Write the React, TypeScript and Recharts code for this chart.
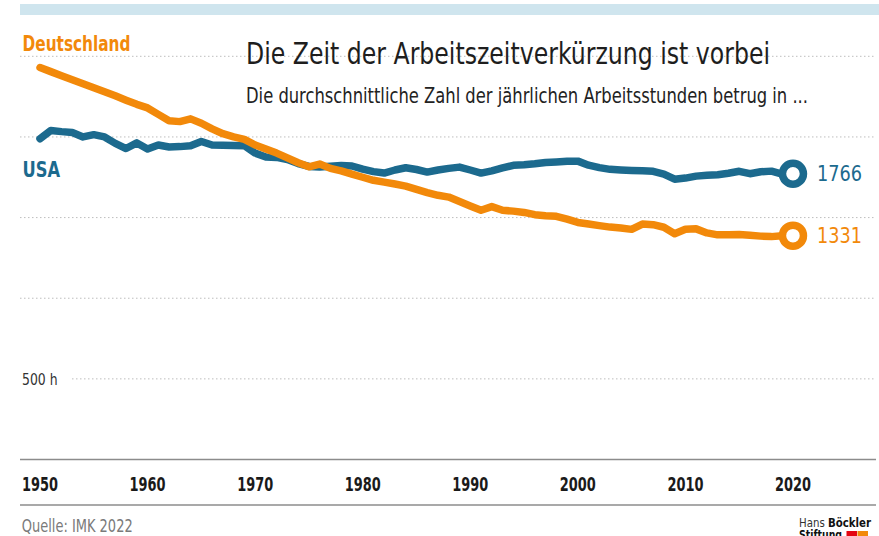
import { CartesianGrid, LabelList, Line, LineChart, XAxis, YAxis } from "recharts";

const YEARS = [
  1950, 1951, 1952, 1953, 1954, 1955, 1956, 1957, 1958, 1959,
  1960, 1961, 1962, 1963, 1964, 1965, 1966, 1967, 1968, 1969,
  1970, 1971, 1972, 1973, 1974, 1975, 1976, 1977, 1978, 1979,
  1980, 1981, 1982, 1983, 1984, 1985, 1986, 1987, 1988, 1989,
  1990, 1991, 1992, 1993, 1994, 1995, 1996, 1997, 1998, 1999,
  2000, 2001, 2002, 2003, 2004, 2005, 2006, 2007, 2008, 2009,
  2010, 2011, 2012, 2013, 2014, 2015, 2016, 2017, 2018, 2019,
  2020,
];

// Jährliche Arbeitsstunden
const GERMANY = [
  2430, 2405, 2380, 2355, 2330, 2305, 2280, 2255, 2228, 2202,
  2180, 2140, 2100, 2095, 2112, 2085, 2050, 2020, 2000, 1985,
  1950, 1925, 1900, 1870, 1840, 1815, 1832, 1805, 1790, 1770,
  1750, 1731, 1720, 1708, 1695, 1675, 1655, 1638, 1627, 1600,
  1572, 1545, 1568, 1545, 1540, 1532, 1518, 1512, 1508, 1490,
  1470, 1460, 1450, 1441, 1435, 1427, 1460, 1456, 1440, 1400,
  1428, 1430, 1405, 1393, 1394, 1395, 1390, 1385, 1382, 1388,
  1388,
];

const USA = [
  1989, 2040, 2033, 2028, 2000, 2014, 2000, 1960, 1928, 1963,
  1925, 1950, 1938, 1940, 1945, 1972, 1950, 1948, 1947, 1946,
  1900, 1876, 1873, 1860, 1835, 1817, 1814, 1818, 1823, 1820,
  1800, 1785, 1776, 1795, 1809, 1798, 1782, 1795, 1805, 1813,
  1795, 1776, 1790, 1808, 1824, 1828, 1834, 1842, 1845, 1849,
  1850, 1825, 1810, 1799, 1795, 1792, 1790, 1787, 1770, 1738,
  1745, 1757, 1762, 1766, 1775, 1787, 1772, 1784, 1788, 1770,
  1772,
];

const X_TICKS = [1950, 1960, 1970, 1980, 1990, 2000, 2010, 2020];
const Y_TICKS = [0, 500, 1000, 1500, 2000];
const Y_LABELS: Record<number, string> = { 500: "500 h" };
const END_LABEL_DE = "1331";
const END_LABEL_US = "1766";

const ORANGE = "#f2890a";
const BLUE = "#1c6a8e";
const FONT = "'Liberation Sans Narrow', 'DejaVu Sans Condensed', Roboto, sans-serif";
const PLOT_LEFT = 20;

const data = YEARS.map((year, i) => ({ year, de: GERMANY[i], us: USA[i] }));
const last = data.length - 1;

function renderXTick({ x, y, payload }: any) {
  return (
    <text key={payload.value} x={x} y={y + 31} textAnchor="middle" fontFamily={FONT} fontWeight={700}
      fontSize={20} fill="#1a1a1a" textLength={36} lengthAdjust="spacingAndGlyphs">
      {payload.value}
    </text>
  );
}

function renderYTick({ y, payload }: any) {
  const label = Y_LABELS[payload.value];
  if (!label) return <g key={payload.value} />;
  return (
    <g key={payload.value}>
      <rect x={PLOT_LEFT} y={y - 8} width={52} height={16} fill="#fff" />
      <text x={PLOT_LEFT + 2} y={y + 6} fontFamily={FONT} fontSize={15} fill="#333"
        textLength={35.5} lengthAdjust="spacingAndGlyphs">
        {label}
      </text>
    </g>
  );
}

function endDot(color: string) {
  return (props: any) =>
    props.index === last ? (
      <circle key="end" cx={props.cx} cy={props.cy} r={10.5} fill="#fff" stroke={color} strokeWidth={7.5} />
    ) : (
      <g key={props.index} />
    );
}

function endLabel(color: string, text: string) {
  return (props: any) =>
    props.index === last ? (
      <text x={props.x + 24} y={props.y + 7} fontFamily={FONT} fontSize={21} fill={color}
        textLength={45} lengthAdjust="spacingAndGlyphs">
        {text}
      </text>
    ) : null;
}

export default function App() {
  return (
    <div style={{ position: "relative", width: 879, height: 536, overflow: "hidden", background: "#fff" }}>
      <style>{"body{margin:0}"}</style>
      <LineChart width={879} height={536} data={data} margin={{ top: 56.3, right: 3, bottom: 46.5, left: PLOT_LEFT - 1 }}>
        <CartesianGrid vertical={false} stroke="#bdbdbd" strokeDasharray="1.5 2.5" />
        <XAxis dataKey="year" type="number" domain={[1948.14, 2027.72]} ticks={X_TICKS} allowDataOverflow
          height={30} tickSize={0} tickMargin={0} tickLine={false}
          axisLine={{ stroke: "#8c8c8c", strokeWidth: 1.5 }} tick={renderXTick} />
        <YAxis type="number" domain={[0, 2500]} ticks={Y_TICKS} width={1} axisLine={false} tickLine={false}
          interval={0} tick={renderYTick} />
        <Line dataKey="us" stroke={BLUE} strokeWidth={7.5} strokeLinejoin="round" strokeLinecap="round"
          dot={endDot(BLUE)} activeDot={false} isAnimationActive={false}>
          <LabelList dataKey="us" content={endLabel(BLUE, END_LABEL_US)} />
        </Line>
        <Line dataKey="de" stroke={ORANGE} strokeWidth={7.5} strokeLinejoin="round" strokeLinecap="round"
          dot={endDot(ORANGE)} activeDot={false} isAnimationActive={false}>
          <LabelList dataKey="de" content={endLabel(ORANGE, END_LABEL_DE)} />
        </Line>
      </LineChart>
      <svg width={879} height={536} style={{ position: "absolute", left: 0, top: 0, pointerEvents: "none" }}>
        <rect x={20} y={4} width={859} height={11} fill="#cfe5ee" />
        <text x={22.5} y={50.5} fontFamily={FONT} fontWeight={700} fontSize={21.5} fill={ORANGE}
          textLength={108} lengthAdjust="spacingAndGlyphs">Deutschland</text>
        <text x={22.5} y={176.5} fontFamily={FONT} fontWeight={700} fontSize={21} fill={BLUE}
          textLength={37.5} lengthAdjust="spacingAndGlyphs">USA</text>
        <text x={246} y={64.3} fontFamily={FONT} fontSize={31} fill="#1e1e1e"
          textLength={524} lengthAdjust="spacingAndGlyphs">Die Zeit der Arbeitszeitverkürzung ist vorbei</text>
        <text x={246} y={102.5} fontFamily={FONT} fontSize={22} fill="#222"
          textLength={562} lengthAdjust="spacingAndGlyphs">Die durchschnittliche Zahl der jährlichen Arbeitsstunden betrug in ...</text>
        <line x1={20} x2={876} y1={505} y2={505} stroke="#8c8c8c" strokeWidth={1.5} />
        <text x={21.7} y={531.5} fontFamily={FONT} fontSize={17} fill="#7a7a7a"
          textLength={111} lengthAdjust="spacingAndGlyphs">Quelle: IMK 2022</text>
        <text x={799} y={526.5} fontFamily={FONT} fontSize={11.5} fill="#333"
          textLength={72} lengthAdjust="spacingAndGlyphs">
          Hans <tspan fontWeight={700} fill="#111">Böckler</tspan>
        </text>
        <text x={799} y={539} fontFamily={FONT} fontWeight={700} fontSize={11.5} fill="#111"
          textLength={43} lengthAdjust="spacingAndGlyphs">Stiftung</text>
        <rect x={846.5} y={531} width={10.5} height={6} fill="#e30613" />
        <rect x={857.5} y={531} width={10.5} height={6} fill={ORANGE} />
      </svg>
    </div>
  );
}
